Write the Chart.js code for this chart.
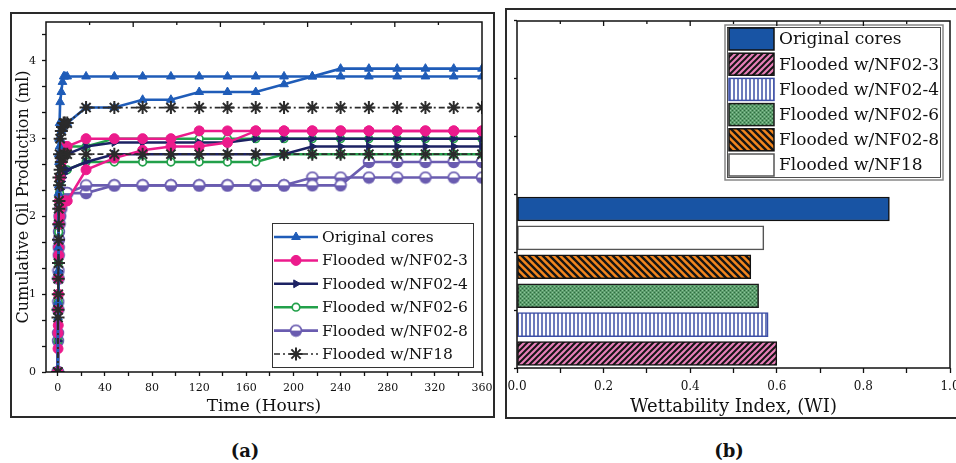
<!DOCTYPE html>
<html lang="en">
<head>
<meta charset="UTF-8">
<meta name="viewport" content="width=device-width, initial-scale=1.0">
<title>Oil Production and Wettability Index</title>
<script src="https://cdn.jsdelivr.net/npm/chart.js"></script>
<style>
    body {
        margin: 0;
        overflow: hidden;
        background: #fff;
        font-family: 'DejaVu Serif', serif;
    }
    .panel {
        position: absolute;
        box-sizing: border-box;
        border: 2px solid #2a2a2a;
        overflow: hidden;
    }
    #panelA { left: 10px; top: 12px; width: 485px; height: 406px; }
    #panelB { left: 505px; top: 8px; width: 470px; height: 411px; }
    #prodChart { position: absolute; left: 0; top: -10px; }
    #wiChart { position: absolute; left: -7px; top: 0; }
    .tag {
        position: absolute;
        top: 440px;
        width: 40px;
        text-align: center;
        font: bold 18px 'DejaVu Serif', serif;
        color: #111;
    }
</style>
</head>
<body>
<div class="panel" id="panelA"><canvas id="prodChart" width="490" height="412"></canvas></div>
<div class="panel" id="panelB"><canvas id="wiChart" width="470" height="407"></canvas></div>
<div class="tag" style="left:225px">(a)</div>
<div class="tag" style="left:709px">(b)</div>

<script>
    // ---- (a) cumulative oil production, two runs per fluid ----
    const hours = [0, 0.2, 0.4, 0.6, 0.8, 1, 1.5, 2, 3, 4, 5, 6, 8,
                   24, 48, 72, 96, 120, 144, 168, 192, 216, 240, 264, 288, 312, 336, 360];

    const originalA = [0, 0.9, 1.6, 2.3, 2.8, 3.0, 3.2, 3.47, 3.6, 3.73, 3.8, 3.8, 3.8,
                       3.8, 3.8, 3.8, 3.8, 3.8, 3.8, 3.8, 3.8, 3.8, 3.8, 3.8, 3.8, 3.8, 3.8, 3.8];
    const originalB = [0, 0.7, 1.3, 1.9, 2.4, 2.7, 2.9, 3.0, 3.1, 3.15, 3.2, 3.2, 3.2,
                       3.4, 3.4, 3.5, 3.5, 3.6, 3.6, 3.6, 3.7, 3.8, 3.9, 3.9, 3.9, 3.9, 3.9, 3.9];
    const nf023A = [0, 0.3, 0.6, 1.0, 1.5, 1.9, 2.2, 2.5, 2.7, 2.8, 2.85, 2.9, 2.9,
                    3.0, 3.0, 3.0, 3.0, 3.1, 3.1, 3.1, 3.1, 3.1, 3.1, 3.1, 3.1, 3.1, 3.1, 3.1];
    const nf023B = [0, 0.5, 0.8, 1.2, 1.6, 1.9, 2.0, 2.1, 2.15, 2.2, 2.2, 2.2, 2.2,
                    2.6, 2.75, 2.85, 2.9, 2.9, 2.95, 3.1, 3.1, 3.1, 3.1, 3.1, 3.1, 3.1, 3.1, 3.1];
    const nf024A = [0, 0.5, 1.0, 1.5, 1.9, 2.2, 2.4, 2.55, 2.65, 2.7, 2.75, 2.8, 2.8,
                    2.9, 2.95, 2.95, 2.95, 2.95, 2.95, 3.0, 3.0, 3.0, 3.0, 3.0, 3.0, 3.0, 3.0, 3.0];
    const nf024B = [0, 0.4, 0.8, 1.3, 1.7, 2.0, 2.2, 2.35, 2.45, 2.5, 2.55, 2.6, 2.6,
                    2.7, 2.8, 2.8, 2.8, 2.8, 2.8, 2.8, 2.8, 2.9, 2.9, 2.9, 2.9, 2.9, 2.9, 2.9];
    const nf026A = [0, 0.5, 1.0, 1.5, 1.9, 2.2, 2.5, 2.7, 2.8, 2.85, 2.9, 2.9, 2.9,
                    2.9, 3.0, 3.0, 3.0, 3.0, 3.0, 3.0, 3.0, 3.0, 3.0, 3.0, 3.0, 3.0, 3.0, 3.0];
    const nf026B = [0, 0.4, 0.9, 1.4, 1.8, 2.1, 2.3, 2.45, 2.55, 2.6, 2.6, 2.6, 2.6,
                    2.7, 2.7, 2.7, 2.7, 2.7, 2.7, 2.7, 2.8, 2.8, 2.8, 2.8, 2.8, 2.8, 2.8, 2.8];
    const nf028A = [0, 0.5, 0.9, 1.3, 1.6, 1.8, 2.0, 2.1, 2.2, 2.25, 2.3, 2.3, 2.3,
                    2.4, 2.4, 2.4, 2.4, 2.4, 2.4, 2.4, 2.4, 2.4, 2.4, 2.7, 2.7, 2.7, 2.7, 2.7];
    const nf028B = [0, 0.4, 0.8, 1.2, 1.5, 1.7, 1.9, 2.0, 2.1, 2.2, 2.25, 2.3, 2.3,
                    2.3, 2.4, 2.4, 2.4, 2.4, 2.4, 2.4, 2.4, 2.5, 2.5, 2.5, 2.5, 2.5, 2.5, 2.5];
    const nf18A = [0, 0.7, 1.2, 1.7, 2.1, 2.5, 2.8, 3.0, 3.1, 3.15, 3.2, 3.2, 3.2,
                   3.4, 3.4, 3.4, 3.4, 3.4, 3.4, 3.4, 3.4, 3.4, 3.4, 3.4, 3.4, 3.4, 3.4, 3.4];
    const nf18B = [0, 0.8, 1.0, 1.4, 1.9, 2.2, 2.4, 2.6, 2.7, 2.75, 2.8, 2.8, 2.8,
                   2.8, 2.8, 2.8, 2.8, 2.8, 2.8, 2.8, 2.8, 2.8, 2.8, 2.8, 2.8, 2.8, 2.8, 2.8];

    const hourTicks = [0, 20, 40, 60, 80, 100, 120, 140, 160, 180, 200, 220, 240, 260, 280, 300, 320, 340, 360];
    const prodTicks = [0, 0.333, 0.667, 1, 1.333, 1.667, 2, 2.333, 2.667, 3, 3.333, 3.667, 4, 4.333];

    // ---- (b) wettability index ----
    const wiGroups = ['Original cores', 'Flooded w/NF02-3', 'Flooded w/NF02-4',
                      'Flooded w/NF02-6', 'Flooded w/NF02-8', 'Flooded w/NF18'];
    const wiValues = [0.86, 0.60, 0.58, 0.558, 0.54, 0.57];
    // bottom-to-top order of the bars
    const barOrder = ['Flooded w/NF02-3', 'Flooded w/NF02-4', 'Flooded w/NF02-6',
                      'Flooded w/NF02-8', 'Flooded w/NF18', 'Original cores'];
    const wiTicks = [0, 0.1, 0.2, 0.3, 0.4, 0.5, 0.6, 0.7, 0.8, 0.9, 1.0];

    Chart.defaults.font.family = "'DejaVu Serif', serif";
    Chart.defaults.color = '#111';

    // marker: circle, top half white, bottom half filled
    function halfCircle(color) {
        const c = document.createElement('canvas');
        c.width = c.height = 14;
        const g = c.getContext('2d');
        g.fillStyle = '#fff';
        g.beginPath(); g.arc(7, 7, 5.4, 0, Math.PI * 2); g.fill();
        g.fillStyle = color;
        g.beginPath(); g.arc(7, 7, 5.4, 0, Math.PI); g.fill();
        g.strokeStyle = color; g.lineWidth = 1.6;
        g.beginPath(); g.arc(7, 7, 5.4, 0, Math.PI * 2); g.stroke();
        return c;
    }

    function tile(size, paint) {
        const c = document.createElement('canvas');
        c.width = c.height = size;
        paint(c.getContext('2d'), size);
        return c.getContext('2d').createPattern(c, 'repeat');
    }

    function hatch(bg, fg, size, width, dir) {
        return tile(size, (g, s) => {
            g.fillStyle = bg; g.fillRect(0, 0, s, s);
            g.strokeStyle = fg; g.lineWidth = width;
            g.beginPath();
            if (dir === '|') {
                g.moveTo(s / 2, 0); g.lineTo(s / 2, s);
            } else if (dir === '/') {
                g.moveTo(0, s); g.lineTo(s, 0);
                g.moveTo(-s / 2, s / 2); g.lineTo(s / 2, -s / 2);
                g.moveTo(s / 2, s * 1.5); g.lineTo(s * 1.5, s / 2);
            } else {
                g.moveTo(0, 0); g.lineTo(s, s);
                g.moveTo(-s / 2, s / 2); g.lineTo(s / 2, s * 1.5);
                g.moveTo(s / 2, -s / 2); g.lineTo(s * 1.5, s / 2);
            }
            g.stroke();
        });
    }

    const speckle = tile(4, (g, s) => {
        g.fillStyle = '#5c9d6c'; g.fillRect(0, 0, s, s);
        g.fillStyle = '#2f6b40'; g.fillRect(0, 0, 1, 1); g.fillRect(2, 2, 1, 1);
        g.fillStyle = '#8cc49a'; g.fillRect(2, 0, 1, 1); g.fillRect(0, 2, 1, 1);
    });

    const lineSeries = [
        { label: 'Original cores', runs: [originalA, originalB], color: '#1f5cb8', fill: '#1f5cb8',
          width: 2.6, pointStyle: 'triangle', radius: 5, rotation: 0, pointBorder: 1, order: 1 },
        { label: 'Flooded w/NF02-3', runs: [nf023A, nf023B], color: '#ec1b8c', fill: '#ec1b8c',
          width: 2.5, pointStyle: 'circle', radius: 5, rotation: 0, pointBorder: 1, order: 2 },
        { label: 'Flooded w/NF02-4', runs: [nf024A, nf024B], color: '#1c2263', fill: '#1c2263',
          width: 2.5, pointStyle: 'triangle', radius: 4.5, rotation: 90, pointBorder: 1, order: 3 },
        { label: 'Flooded w/NF02-6', runs: [nf026A, nf026B], color: '#22a04a', fill: '#ffffff',
          width: 2.5, pointStyle: 'circle', radius: 3.8, rotation: 0, pointBorder: 1.7, order: 4 },
        { label: 'Flooded w/NF02-8', runs: [nf028A, nf028B], color: '#6a5cb0', fill: '#6a5cb0',
          width: 2.6, pointStyle: halfCircle('#6a5cb0'), radius: 5.5, rotation: 0, pointBorder: 1, order: 5 },
        { label: 'Flooded w/NF18', runs: [nf18A, nf18B], color: '#2b2b2b', fill: '#2b2b2b',
          width: 1.7, dash: [6, 3, 2, 3], pointStyle: 'star', radius: 6.5, rotation: 0, pointBorder: 2, order: 0 }
    ];

    const prodDatasets = [];
    lineSeries.forEach(s => {
        s.runs.forEach(run => {
            prodDatasets.push({
                label: s.label,
                data: hours.map((h, i) => ({ x: h, y: run[i] })),
                borderColor: s.color,
                backgroundColor: s.fill,
                borderWidth: s.width,
                borderDash: s.dash || [],
                pointStyle: s.pointStyle,
                pointRadius: s.radius,
                pointRotation: s.rotation,
                pointBorderWidth: s.pointBorder,
                pointBorderColor: s.color,
                pointBackgroundColor: s.fill,
                tension: 0,
                order: s.order
            });
        });
    });

    const barLooks = {
        'Original cores':   { fill: '#1854a4', edge: '#111' },
        'Flooded w/NF02-3': { fill: hatch('#e77fb8', '#151515', 6, 2, '/'), edge: '#111' },
        'Flooded w/NF02-4': { fill: hatch('#ffffff', '#3d4fa6', 4, 1.5, '|'), edge: '#3d4fa6' },
        'Flooded w/NF02-6': { fill: speckle, edge: '#1a1a1a' },
        'Flooded w/NF02-8': { fill: hatch('#f2861e', '#151515', 7, 2.4, '\\'), edge: '#111' },
        'Flooded w/NF18':   { fill: '#ffffff', edge: '#555' }
    };

    // box around the plot area with short inward ticks along the top edge
    const panelFrame = {
        id: 'panelFrame',
        afterDatasetsDraw(chart) {
            const { ctx, chartArea: a } = chart;
            ctx.save();
            ctx.strokeStyle = '#111';
            ctx.lineWidth = 1.5;
            ctx.strokeRect(a.left, a.top, a.right - a.left, a.bottom - a.top);
            ctx.lineWidth = 1.3;
            for (let k = 1; k < 10; k++) {
                const x = a.left + (a.right - a.left) * k / 10;
                ctx.beginPath();
                ctx.moveTo(x, a.top);
                ctx.lineTo(x, a.top + (k % 2 ? 3 : 5));
                ctx.stroke();
            }
            ctx.restore();
        }
    };

    const seriesKey = {
        id: 'seriesKey',
        afterDatasetsDraw(chart) {
            const { ctx, chartArea: a } = chart;
            const x0 = a.left + 226, y0 = a.top + 201, w = 201, h = 144;
            ctx.save();
            ctx.fillStyle = '#fff';
            ctx.fillRect(x0, y0, w, h);
            ctx.strokeStyle = '#333';
            ctx.lineWidth = 1;
            ctx.strokeRect(x0 + 0.5, y0 + 0.5, w, h);
            ctx.font = "15.5px 'DejaVu Serif', serif";
            ctx.textBaseline = 'middle';
            lineSeries.forEach((s, i) => {
                const cy = y0 + 14 + i * 23.4;
                ctx.strokeStyle = s.color;
                ctx.lineWidth = s.width;
                ctx.setLineDash(s.dash || []);
                ctx.beginPath();
                ctx.moveTo(x0 + 2, cy);
                ctx.lineTo(x0 + 46, cy);
                ctx.stroke();
                ctx.setLineDash([]);
                ctx.fillStyle = s.fill;
                ctx.lineWidth = s.pointBorder;
                Chart.helpers.drawPoint(ctx, {
                    pointStyle: s.pointStyle, radius: s.radius,
                    rotation: s.rotation, borderWidth: s.pointBorder
                }, x0 + 24, cy);
                ctx.fillStyle = '#111';
                ctx.fillText(s.label, x0 + 50, cy + 1);
            });
            ctx.restore();
        }
    };

    const barKey = {
        id: 'barKey',
        afterDatasetsDraw(chart) {
            const { ctx, chartArea: a } = chart;
            const x0 = a.left + 208, y0 = a.top + 4, w = 218, h = 155;
            ctx.save();
            ctx.fillStyle = '#fff';
            ctx.fillRect(x0, y0, w, h);
            ctx.strokeStyle = '#888';
            ctx.lineWidth = 1.5;
            ctx.strokeRect(x0, y0, w, h);
            ctx.strokeStyle = '#222';
            ctx.lineWidth = 0.8;
            ctx.strokeRect(x0 + 2.5, y0 + 2.5, w - 5, h - 5);
            ctx.font = "17px 'DejaVu Serif', serif";
            ctx.textBaseline = 'middle';
            wiGroups.forEach((g, i) => {
                const cy = y0 + 14 + i * 25.2;
                const look = barLooks[g];
                ctx.fillStyle = look.fill;
                ctx.fillRect(x0 + 4, cy - 11, 45, 22);
                ctx.strokeStyle = look.edge;
                ctx.lineWidth = 1.5;
                ctx.strokeRect(x0 + 4, cy - 11, 45, 22);
                ctx.fillStyle = '#111';
                ctx.fillText(g, x0 + 54, cy + 1);
            });
            ctx.restore();
        }
    };

    new Chart(document.getElementById('prodChart'), {
        type: 'line',
        data: { datasets: prodDatasets },
        options: {
            responsive: false,
            animation: false,
            events: [],
            layout: { padding: { top: 18, right: 20, left: 0, bottom: 0 } },
            plugins: { legend: { display: false }, tooltip: { enabled: false } },
            scales: {
                x: {
                    type: 'linear',
                    min: -10,
                    max: 360,
                    afterBuildTicks: s => { s.ticks = hourTicks.map(v => ({ value: v })); },
                    afterFit: s => { s.height = 44; },
                    grid: { drawOnChartArea: false, tickLength: 4, tickColor: '#111', tickWidth: 1.3 },
                    border: { display: false },
                    ticks: {
                        padding: 0,
                        autoSkip: false,
                        maxRotation: 0,
                        font: { size: 11, lineHeight: 2.2 },
                        callback: v => (v % 40 === 0 ? String(v) : '')
                    },
                    title: {
                        display: true,
                        text: 'Time (Hours)',
                        font: { size: 17, lineHeight: 1.1 },
                        padding: { top: 0, bottom: 0 }
                    }
                },
                y: {
                    min: 0,
                    max: 4.5,
                    afterBuildTicks: s => { s.ticks = prodTicks.map(v => ({ value: v })); },
                    afterFit: s => { s.width = 34; },
                    grid: { drawOnChartArea: false, tickLength: 4, tickColor: '#111', tickWidth: 1.3 },
                    border: { display: false },
                    ticks: {
                        padding: 6,
                        autoSkip: false,
                        font: { size: 11 },
                        callback: v => (Number.isInteger(v) ? String(v) : '')
                    },
                    title: {
                        display: true,
                        text: 'Cumulative Oil Production (ml)',
                        font: { size: 16 },
                        padding: { top: 2, bottom: 0 }
                    }
                }
            }
        },
        plugins: [panelFrame, seriesKey]
    });

    new Chart(document.getElementById('wiChart'), {
        type: 'bar',
        data: {
            // bars sit in the lower half of the index axis
            labels: barOrder.concat(['', '', '', '', '', '']),
            datasets: [{
                data: barOrder.map(g => wiValues[wiGroups.indexOf(g)]),
                backgroundColor: barOrder.map(g => barLooks[g].fill),
                borderColor: barOrder.map(g => barLooks[g].edge),
                borderWidth: 1.5,
                borderSkipped: false,
                barThickness: 24
            }]
        },
        options: {
            indexAxis: 'y',
            responsive: false,
            animation: false,
            events: [],
            layout: { padding: { top: 11, right: 20, left: 0, bottom: 0 } },
            plugins: { legend: { display: false }, tooltip: { enabled: false } },
            scales: {
                x: {
                    type: 'linear',
                    min: 0,
                    max: 1,
                    afterBuildTicks: s => { s.ticks = wiTicks.map(v => ({ value: v })); },
                    afterFit: s => { s.height = 49; },
                    grid: { drawOnChartArea: false, tickLength: 5, tickColor: '#111', tickWidth: 1.3 },
                    border: { display: false },
                    ticks: {
                        padding: 0,
                        autoSkip: false,
                        maxRotation: 0,
                        font: { size: 12, lineHeight: 2.3 },
                        callback: v => (Math.round(v * 10) % 2 === 0 ? v.toFixed(1) : '')
                    },
                    title: {
                        display: true,
                        text: 'Wettability Index, (WI)',
                        font: { size: 18, lineHeight: 1.1 },
                        padding: { top: 0, bottom: 0 }
                    }
                },
                y: {
                    type: 'category',
                    reverse: true,
                    offset: true,
                    afterFit: s => { s.width = 17; },
                    grid: {
                        offset: true,
                        drawOnChartArea: false,
                        tickLength: 3,
                        tickWidth: 1.3,
                        tickColor: c => (c.index % 2 ? 'rgba(0,0,0,0)' : '#111')
                    },
                    border: { display: false },
                    ticks: { display: false }
                }
            }
        },
        plugins: [barKey, panelFrame]
    });
</script>
</body>
</html>
